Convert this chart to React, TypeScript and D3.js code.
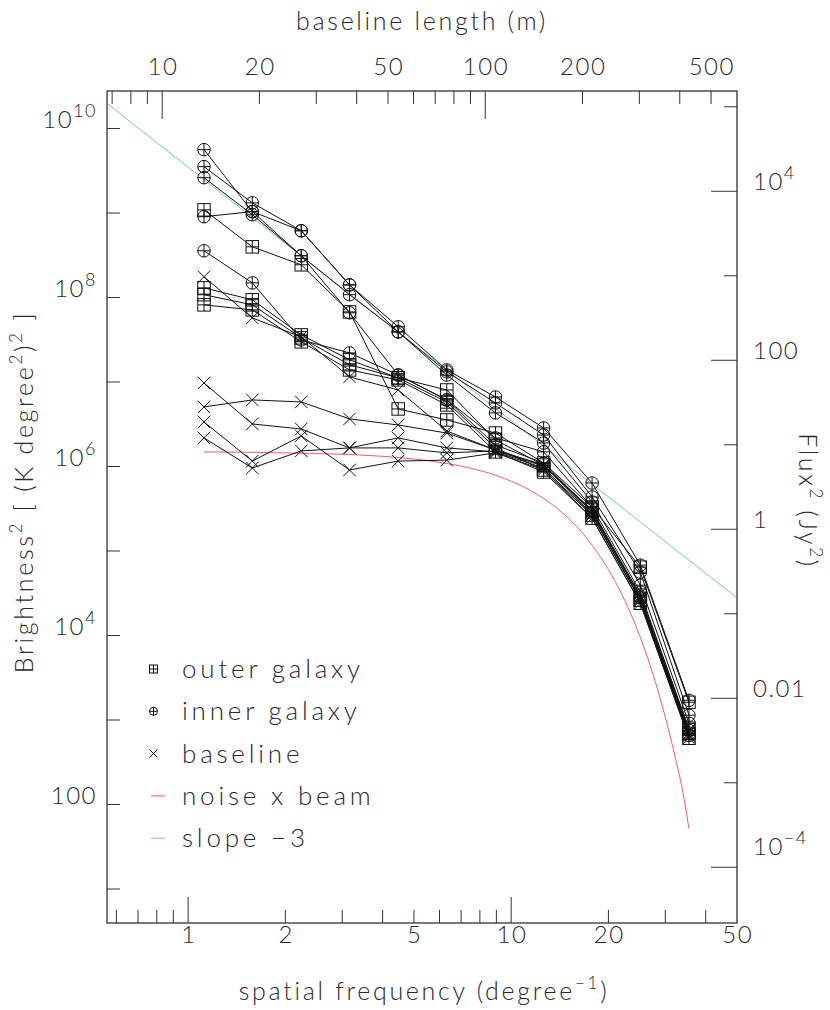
import React from 'react';
import * as d3 from 'd3';

// spatial frequency of each measured point (degree^-1)
const FREQ = [1.12, 1.58, 2.24, 3.16, 4.47, 6.32, 8.94, 12.6, 17.8, 25.1, 35.5];

// outer galaxy channels
const outer1 = [1.09e9, 3.98e8, 2.44e8, 6.76e7, 4.8e6, 3.56e6, 2.49e6, 1.1e6, 3.31e5, 6.44e4, 1.62e3];
const outer2 = [1.3e8, 9.4e7, 3.61e7, 1.83e7, 1.12e7, 8.05e6, 2.06e6, 1.04e6, 3.05e5, 3.0e4, 798];
const outer3 = [1.08e8, 8.19e7, 3.33e7, 1.6e7, 1.12e7, 5.81e6, 1.66e6, 9.1e5, 2.66e5, 2.62e4, 695];
const outer4 = [8.19e7, 7.14e7, 2.99e7, 1.39e7, 1.06e7, 5.36e6, 1.49e6, 8.61e5, 2.45e5, 2.41e4, 608];

// inner galaxy channels
const inner1 = [5.62e9, 1.04e9, 6.17e8, 1.41e8, 4.5e7, 1.39e7, 6.65e6, 2.86e6, 6.38e5, 6.81e4, 1.71e3];
const inner2 = [3.54e9, 1.32e9, 6.17e8, 1.41e8, 3.92e7, 1.32e7, 5.65e6, 2.36e6, 4.36e5, 5.62e4, 1.14e3];
const inner3 = [2.62e9, 9.55e8, 3.12e8, 1.08e8, 3.92e7, 1.21e7, 4.31e6, 1.9e6, 3.8e5, 3.94e4, 914];
const inner4 = [9.04e8, 1.04e9, 3.12e8, 6.59e7, 1.21e7, 6.14e6, 2.18e6, 1.49e6, 3.31e5, 3.26e4, 755];
const inner5 = [3.57e8, 1.49e8, 3.15e7, 2.21e7, 1.21e7, 6.14e6, 1.8e6, 1.1e6, 2.89e5, 2.84e4, 658];

// baseline (signal-free) channels
const base1 = [1.76e8, 5.74e7, 3.42e7, 1.15e7, 8.05e6, 2.63e6, 1.57e6, 1.04e6, 2.74e5, 2.62e4, 640];
const base2 = [9.75e6, 3.19e6, 2.78e6, 1.66e6, 2.18e6, 1.66e6, 1.49e6, 9.6e5, 2.66e5, 2.62e4, 658];
const base3 = [5.07e6, 6.14e6, 5.81e6, 3.66e6, 3.1e6, 2.49e6, 1.57e6, 1.04e6, 2.89e5, 2.84e4, 695];
const base4 = [3.37e6, 1.16e6, 2.3e6, 9.1e5, 1.16e6, 1.19e6, 1.45e6, 9.1e5, 2.45e5, 2.41e4, 608];
const base5 = [2.18e6, 9.6e5, 1.53e6, 1.66e6, 1.66e6, 1.45e6, 1.53e6, 1.01e6, 3.05e5, 2.76e4, 755];

// noise x beam curve
const NOISE_FREQ = [1.12, 2, 4, 6, 8, 10, 12, 14, 16, 18, 20, 22, 24, 26, 28, 30, 32, 34, 35.5];
const NOISE_VAL = [1.49e6, 1.45e6, 1.32e6, 1.12e6, 8.97e5, 6.71e5, 4.71e5, 3.1e5, 1.92e5, 1.11e5, 6.03e4, 3.07e4, 1.47e4, 6.56e3, 2.75e3, 1.08e3, 400, 139, 52];

// slope -3 reference line
const SLOPE_FREQ = [0.561, 50];
const SLOPE_VAL = [1.98e10, 2.79e4];

// axis labels
const BOTTOM_LABELS = [1, 2, 5, 10, 20, 50];
const TOP_LABELS = [10, 20, 50, 100, 200, 500];
const LEFT_LABELS: [number, string, string][] = [
  [1e10, '10', '10'], [1e8, '10', '8'], [1e6, '10', '6'], [1e4, '10', '4'], [100, '100', ''],
];
const RIGHT_LABELS: [number, string, string][] = [
  [1e4, '10', '4'], [100, '100', ''], [1, '1', ''], [0.01, '0.01', ''], [1e-4, '10', '\u22124'],
];

const LEGEND = [
  { label: 'outer galaxy', kind: 'sq' },
  { label: 'inner galaxy', kind: 'ci' },
  { label: 'baseline', kind: 'x' },
  { label: 'noise x beam', kind: 'red' },
  { label: 'slope \u22123', kind: 'cyan' },
];

const BASELINE_PER_FREQ = 12.03; // metres per degree^-1 at 21 cm
const FLUX_FACTOR = 5.53e-6; // Jy^2 per (K deg^2)^2

const L = 107, R = 737, T = 91, B = 923;
const FONT = 'Lato, "DejaVu Sans", sans-serif';
const TXT = '#2a2a2a';
const RED = '#ff5a5a';
const CYAN = '#6cc9cc';

function Marker({ kind, cx, cy, s }: { kind: string; cx: number; cy: number; s: number }) {
  const h = s / 2;
  if (kind === 'sq') {
    return (
      <g>
        <rect x={cx - h} y={cy - h} width={s} height={s} fill="none" />
        <line x1={cx - h} x2={cx + h} y1={cy} y2={cy} />
        <line x1={cx} x2={cx} y1={cy - h} y2={cy + h} />
      </g>
    );
  }
  if (kind === 'ci') {
    return (
      <g>
        <circle cx={cx} cy={cy} r={h} fill="none" />
        <line x1={cx - h} x2={cx + h} y1={cy} y2={cy} />
        <line x1={cx} x2={cx} y1={cy - h} y2={cy + h} />
      </g>
    );
  }
  return (
    <g>
      <line x1={cx - h} x2={cx + h} y1={cy - h} y2={cy + h} />
      <line x1={cx - h} x2={cx + h} y1={cy + h} y2={cy - h} />
    </g>
  );
}

export default function App() {
  const x = d3.scaleLog().domain([0.561, 50]).range([L, R]);
  const y = d3.scaleLog().domain([3.96, 2.78e10]).range([B, T]);
  const xTop = d3.scaleLog().domain([0.561 * BASELINE_PER_FREQ, 50 * BASELINE_PER_FREQ]).range([L, R]);
  const yR = d3.scaleLog().domain([3.96 * FLUX_FACTOR, 2.78e10 * FLUX_FACTOR]).range([B, T]);

  const groups = [
    { kind: 'sq', series: [outer1, outer2, outer3, outer4] },
    { kind: 'ci', series: [inner1, inner2, inner3, inner4, inner5] },
    { kind: 'x', series: [base1, base2, base3, base4, base5] },
  ];

  const line = d3.line<[number, number]>().x((d) => x(d[0])).y((d) => y(d[1]));
  const curve = d3.line<[number, number]>().x((d) => x(d[0])).y((d) => y(d[1])).curve(d3.curveMonotoneX);

  const botMinor = [0.6, 0.7, 0.8, 0.9, 2, 3, 4, 5, 6, 7, 8, 9, 20, 30, 40];
  const botMajor = [1, 10];
  const topMinor = [7, 8, 9, 20, 30, 40, 50, 60, 70, 80, 90, 200, 300, 400, 500];
  const topMajor = [10, 100];
  const leftTicks = d3.range(1, 11).map((e) => Math.pow(10, e));
  const rightTicks = d3.range(-4, 6).map((e) => Math.pow(10, e));

  const tickStroke = '#333';
  const LS = 2.7;

  return (
    <svg width={830} height={1010} style={{ position: 'absolute', left: 0, top: 0, background: '#fff' }}
      fontFamily={FONT} fontWeight={300}>
      <defs>
        <clipPath id="frame"><rect x={L} y={T} width={R - L} height={B - T} /></clipPath>
      </defs>

      {/* reference curves */}
      <g clipPath="url(#frame)" fill="none">
        <path d={line(SLOPE_FREQ.map((f, i) => [f, SLOPE_VAL[i]] as [number, number])) || ''} stroke={CYAN} strokeWidth={1} />
        <path d={curve(NOISE_FREQ.map((f, i) => [f, NOISE_VAL[i]] as [number, number])) || ''} stroke={RED} strokeWidth={1} />
      </g>

      {/* data */}
      <g stroke="#111" strokeWidth={1} fill="none">
        {groups.map((g) => g.series.map((s, si) => (
          <g key={g.kind + si}>
            <path d={line(FREQ.map((f, i) => [f, s[i]] as [number, number])) || ''} />
            {FREQ.map((f, i) => <Marker key={i} kind={g.kind} cx={x(f)} cy={y(s[i])} s={12.5} />)}
          </g>
        )))}
      </g>

      {/* frame */}
      <rect x={L} y={T} width={R - L} height={B - T} fill="none" stroke="#222" strokeWidth={1.2} />

      {/* ticks */}
      <g stroke={tickStroke} strokeWidth={1}>
        {botMinor.map((v) => <line key={'bm' + v} x1={x(v)} x2={x(v)} y1={B} y2={B - 13} />)}
        {botMajor.map((v) => <line key={'bM' + v} x1={x(v)} x2={x(v)} y1={B} y2={B - 26} />)}
        {topMinor.map((v) => <line key={'tm' + v} x1={xTop(v)} x2={xTop(v)} y1={T} y2={T + 13} />)}
        {topMajor.map((v) => <line key={'tM' + v} x1={xTop(v)} x2={xTop(v)} y1={T} y2={T + 28} />)}
        {leftTicks.map((v) => <line key={'l' + v} x1={L} x2={L + 13} y1={y(v)} y2={y(v)} />)}
        {rightTicks.map((v, i) => {
          const e = Math.round(Math.log10(v));
          const len = e % 2 === 0 ? 26 : 13;
          return <line key={'r' + i} x1={R} x2={R - len} y1={yR(v)} y2={yR(v)} />;
        })}
      </g>

      {/* tick labels */}
      <g fill={TXT} fontSize={24} letterSpacing={1.5}>
        {BOTTOM_LABELS.map((v) => (
          <text key={'bl' + v} x={x(v) + 0.75} y={943} textAnchor="middle">{v}</text>
        ))}
        {TOP_LABELS.map((v) => (
          <text key={'tl' + v} x={xTop(v) + 0.75} y={75} textAnchor="middle">{v}</text>
        ))}
        {LEFT_LABELS.map(([v, base, sup]) => (
          <text key={'ll' + v} x={97} y={y(v) - 1} textAnchor="end">
            <tspan>{base}</tspan>
            {sup && <tspan dy={-11} fontSize={18}>{sup}</tspan>}
          </text>
        ))}
        {RIGHT_LABELS.map(([v, base, sup]) => (
          <text key={'rl' + v} x={753} y={yR(v) - (sup.startsWith('\u2212') ? 12 : 1)} textAnchor="start">
            <tspan>{base}</tspan>
            {sup && <tspan dy={-11} fontSize={18}>{sup}</tspan>}
          </text>
        ))}
      </g>

      {/* axis titles */}
      <g fill={TXT} fontSize={25} letterSpacing={LS}>
        <text x={(L + R) / 2 + 2} y={1000} textAnchor="middle">
          spatial frequency (degree<tspan dy={-11} fontSize={17}>{'\u22121'}</tspan><tspan dy={11}>)</tspan>
        </text>
        <text x={(L + R) / 2} y={30} textAnchor="middle">baseline length (m)</text>
        <text transform="translate(33,492) rotate(-90)" textAnchor="middle">
          Brightness<tspan dy={-11} fontSize={17}>2</tspan>
          <tspan dy={11}>{' [ (K degree'}</tspan><tspan dy={-11} fontSize={17}>2</tspan>
          <tspan dy={11}>)</tspan><tspan dy={-11} fontSize={17}>2</tspan>
          <tspan dy={11}>{' ]'}</tspan>
        </text>
        <text transform="translate(799,501) rotate(90)" textAnchor="middle" letterSpacing={2.6}>
          Flux<tspan dy={-11} fontSize={17}>2</tspan>
          <tspan dy={11}>{' (Jy'}</tspan><tspan dy={-11} fontSize={17}>2</tspan>
          <tspan dy={11}>)</tspan>
        </text>
      </g>

      {/* legend */}
      <g>
        {LEGEND.map((d, i) => {
          const cy = 669 + i * 42.3;
          return (
            <g key={d.label}>
              {d.kind === 'red' || d.kind === 'cyan' ? (
                <line x1={151} x2={165} y1={cy} y2={cy} stroke={d.kind === 'red' ? RED : CYAN} strokeWidth={1} />
              ) : (
                <g stroke="#111" strokeWidth={1} fill="none"><Marker kind={d.kind} cx={153.5} cy={cy} s={8} /></g>
              )}
              <text x={182} y={cy + 9} fontSize={26} fill={TXT} letterSpacing={3.8}>{d.label}</text>
            </g>
          );
        })}
      </g>
    </svg>
  );
}
